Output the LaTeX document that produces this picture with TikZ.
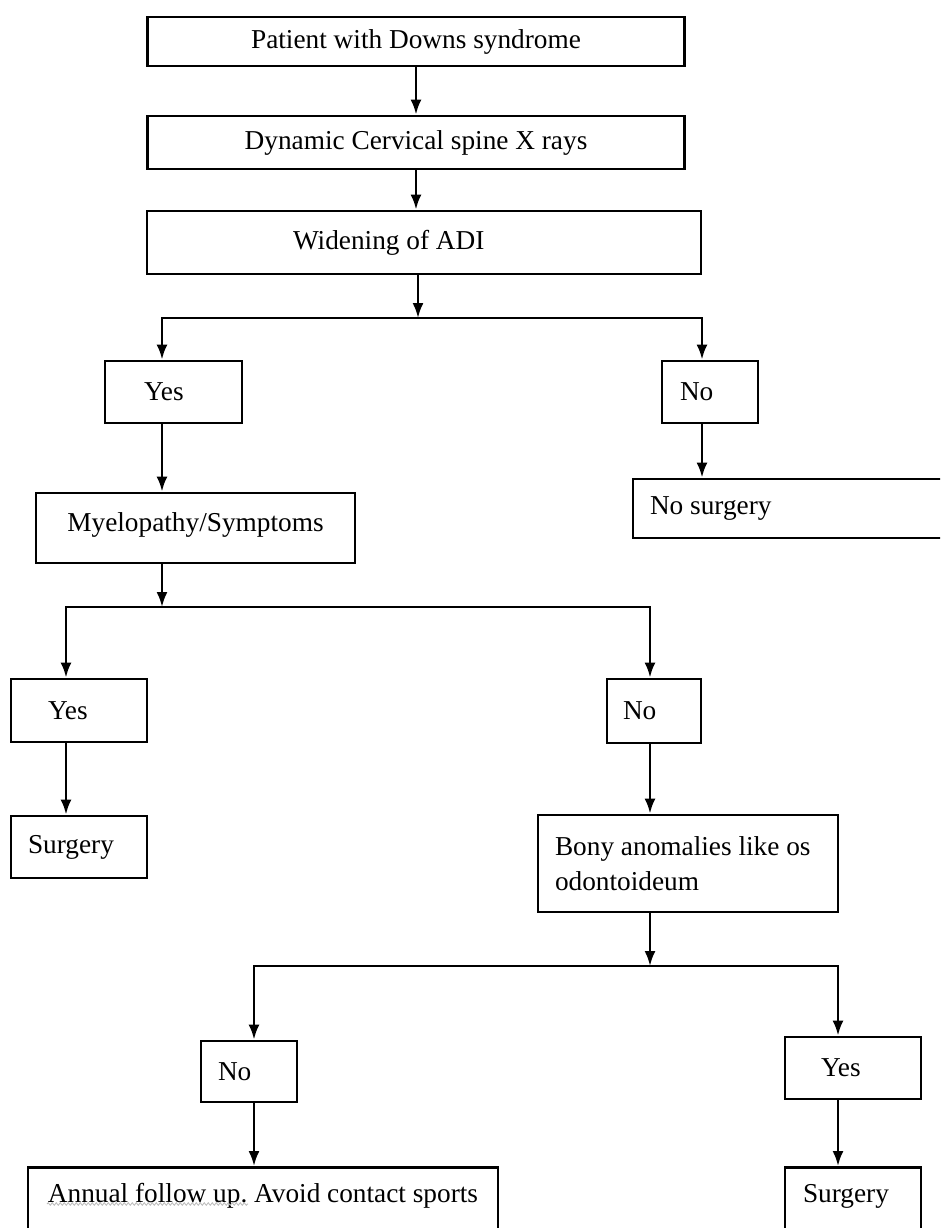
\documentclass[tikz,border=0pt]{standalone}
\usepackage{fontspec}
\setmainfont{Liberation Serif}
\usetikzlibrary{arrows.meta}
\usetikzlibrary{decorations.pathmorphing}

\tikzset{
    box/.style={draw, rectangle, line width=2.9pt, inner sep=0pt,
        font=\fontsize{27.3}{35}\selectfont\frenchspacing},
    lft/.style={align=flush left, text width=#1},
    cut/.style={anchor=north, text height=35pt, text depth=60pt},
    line/.style={->, line width=2.4pt},
}

\begin{document}
\begin{tikzpicture}[x=1pt, y=-1pt, >={Latex[length=15pt,width=11pt]}]

    \useasboundingbox (0,0) rectangle (940,1228);
    \clip (0,0) rectangle (940,1228);

    % top of the chart
    \node[box, minimum width=537pt, minimum height=49pt] (patient) at (416,41.5)
        {Patient with Downs syndrome};
    \node[box, minimum width=537pt, minimum height=53pt] (xray) at (416,142.5)
        {Dynamic Cervical spine X rays};
    \node[box, lft=262pt, minimum width=554pt, minimum height=63pt] (adi) at (424,242.5)
        {Widening of ADI};

    \coordinate (split1) at (418,318);
    \coordinate (split2) at (162,607);
    \coordinate (split3) at (650,966);

    % first answer
    \node[box, lft=59pt, minimum width=137pt, minimum height=62pt] (yes1) at (173.5,392) {Yes};
    \node[box, lft=60pt, minimum width=96pt, minimum height=62pt] (no1) at (710,392) {No};
    \node[box, lft=293pt, minimum width=327pt, minimum height=59pt] (nosurg) at (796.5,508.5)
        {No surgery};
    \node[box, text depth=12pt, minimum width=319pt, minimum height=70pt] (myelo) at (195.5,528)
        {Myelopathy/Symptoms};

    % second answer
    \node[box, lft=62pt, minimum width=136pt, minimum height=63pt] (yes2) at (79,710.5) {Yes};
    \node[box, lft=62pt, minimum width=94pt, minimum height=64pt] (no2) at (654,711) {No};
    \node[box, lft=102pt, minimum width=136pt, minimum height=62pt] (surg1) at (79,847) {Surgery};
    \node[box, lft=266pt, minimum width=300pt, minimum height=97pt] (bony) at (688,863.5)
        {Bony anomalies like os\\odontoideum};

    % third answer
    \node[box, lft=62pt, minimum width=96pt, minimum height=61pt] (no3) at (249,1071.5) {No};
    \node[box, lft=64pt, minimum width=136pt, minimum height=62pt] (yes3) at (853,1068) {Yes};
    \node[box, cut, minimum width=470pt] (annual) at (263,1166)
        {Annual follow up. Avoid contact sports};
    \node[box, cut, lft=100pt, minimum width=136pt] (surg2) at (853,1166) {Surgery};

    \draw[gray!55, line width=0.8pt, decorate,
        decoration={snake, amplitude=1.3pt, segment length=4pt}] (47,1204) -- (248,1204);

    \draw[line] (patient.south) -- (xray.north);
    \draw[line] (xray.south) -- (xray.south |- adi.north);
    \draw[line] (split1 |- adi.south) -- (split1);
    \draw[line] (split1) -| ([xshift=-11.5pt]yes1.north);
    \draw[line] (split1) -| ([xshift=-8pt]no1.north);
    \draw[line] ([xshift=-11.5pt]yes1.south) -- ([xshift=-11.5pt]yes1.south |- myelo.north);
    \draw[line] ([xshift=-8pt]no1.south) -- ([xshift=-8pt]no1.south |- nosurg.north);

    \draw[line] (split2 |- myelo.south) -- (split2);
    \draw[line] (split2) -| ([xshift=-13pt]yes2.north);
    \draw[line] (split2) -| ([xshift=-4pt]no2.north);
    \draw[line] ([xshift=-13pt]yes2.south) -- ([xshift=-13pt]yes2.south |- surg1.north);
    \draw[line] ([xshift=-4pt]no2.south) -- ([xshift=-4pt]no2.south |- bony.north);

    \draw[line] (split3 |- bony.south) -- (split3);
    \draw[line] (split3) -| ([xshift=5pt]no3.north);
    \draw[line] (split3) -| ([xshift=-15pt]yes3.north);
    \draw[line] ([xshift=5pt]no3.south) -- ([xshift=5pt]no3.south |- annual.north);
    \draw[line] ([xshift=-15pt]yes3.south) -- ([xshift=-15pt]yes3.south |- surg2.north);

\end{tikzpicture}
\end{document}
